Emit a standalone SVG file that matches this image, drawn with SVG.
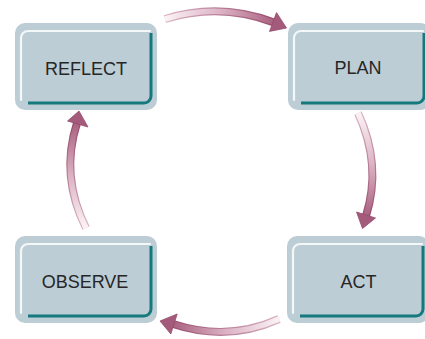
<svg xmlns="http://www.w3.org/2000/svg" width="425" height="339" viewBox="0 0 425 339">
  <style>
    .box { fill: #bccdd5; }
    .hl { fill: none; stroke: #f4f7f8; stroke-width: 2.2; stroke-linecap: round; }
    .tl { fill: none; stroke: #15797e; stroke-width: 3; stroke-linecap: butt; }
    .lbl { font-family: "Liberation Sans", Arial, sans-serif; font-size: 18px; fill: #262626; text-anchor: middle; }
    .shaftO { fill: none; stroke-width: 8; stroke-linecap: butt; }
    .shaftI { fill: none; stroke-width: 5.6; stroke-linecap: butt; }
  </style>
  <defs>
    <linearGradient id="gTopO" gradientUnits="userSpaceOnUse" x1="165" y1="19" x2="275" y2="22">
      <stop offset="0" stop-color="#d9b3c3"/><stop offset="1" stop-color="#98496b"/>
    </linearGradient>
    <linearGradient id="gTopI" gradientUnits="userSpaceOnUse" x1="165" y1="19" x2="275" y2="22">
      <stop offset="0" stop-color="#fbf3f6"/><stop offset="0.5" stop-color="#dcb3c3"/><stop offset="1" stop-color="#a8607f"/>
    </linearGradient>
    <linearGradient id="gRtO" gradientUnits="userSpaceOnUse" x1="358" y1="113" x2="366" y2="217">
      <stop offset="0" stop-color="#d9b3c3"/><stop offset="1" stop-color="#98496b"/>
    </linearGradient>
    <linearGradient id="gRtI" gradientUnits="userSpaceOnUse" x1="358" y1="113" x2="366" y2="217">
      <stop offset="0" stop-color="#fbf3f6"/><stop offset="0.5" stop-color="#dcb3c3"/><stop offset="1" stop-color="#a8607f"/>
    </linearGradient>
    <linearGradient id="gBtO" gradientUnits="userSpaceOnUse" x1="279" y1="319" x2="172" y2="324">
      <stop offset="0" stop-color="#d9b3c3"/><stop offset="1" stop-color="#98496b"/>
    </linearGradient>
    <linearGradient id="gBtI" gradientUnits="userSpaceOnUse" x1="279" y1="319" x2="172" y2="324">
      <stop offset="0" stop-color="#fbf3f6"/><stop offset="0.5" stop-color="#dcb3c3"/><stop offset="1" stop-color="#a8607f"/>
    </linearGradient>
    <linearGradient id="gLtO" gradientUnits="userSpaceOnUse" x1="86" y1="228" x2="77" y2="122">
      <stop offset="0" stop-color="#d9b3c3"/><stop offset="1" stop-color="#98496b"/>
    </linearGradient>
    <linearGradient id="gLtI" gradientUnits="userSpaceOnUse" x1="86" y1="228" x2="77" y2="122">
      <stop offset="0" stop-color="#fbf3f6"/><stop offset="0.5" stop-color="#dcb3c3"/><stop offset="1" stop-color="#a8607f"/>
    </linearGradient>
  </defs>

  <g id="connectors">
    <g id="arrow-plan">
      <path class="shaftO" stroke="url(#gTopO)" d="M165,19 Q220,2 274,22.5"/>
      <path class="shaftI" stroke="url(#gTopI)" d="M165,19 Q220,2 274,22.5"/>
      <polygon points="269.5,31.4 276.5,12.6 286.5,28" fill="#a45b7b" stroke="#954a6b" stroke-width="0.8" stroke-linejoin="round"/>
    </g>
    <g id="arrow-act">
      <path class="shaftO" stroke="url(#gRtO)" d="M358,113 Q382,165 366,216"/>
      <path class="shaftI" stroke="url(#gRtI)" d="M358,113 Q382,165 366,216"/>
      <polygon points="375.5,218 356.5,212 362.5,228.5" fill="#a45b7b" stroke="#954a6b" stroke-width="0.8" stroke-linejoin="round"/>
    </g>
    <g id="arrow-observe">
      <path class="shaftO" stroke="url(#gBtO)" d="M279,319 Q228,342 173,324"/>
      <path class="shaftI" stroke="url(#gBtI)" d="M279,319 Q228,342 173,324"/>
      <polygon points="177.2,314 170.8,334 160,321" fill="#a45b7b" stroke="#954a6b" stroke-width="0.8" stroke-linejoin="round"/>
    </g>
    <g id="arrow-reflect">
      <path class="shaftO" stroke="url(#gLtO)" d="M86,228 Q60,176 77,123"/>
      <path class="shaftI" stroke="url(#gLtI)" d="M86,228 Q60,176 77,123"/>
      <polygon points="88,127 67.5,121 79,111" fill="#a45b7b" stroke="#954a6b" stroke-width="0.8" stroke-linejoin="round"/>
    </g>
  </g>

  <g id="node-reflect" transform="translate(15,23)">
    <rect class="box" x="0" y="0" width="142" height="87" rx="10"/>
    <path class="hl" d="M6,77 V15 A7,7 0 0 1 13,8 H135"/>
    <path class="tl" d="M136,10 V73 A7,7 0 0 1 129,80 H13"/>
    <text class="lbl" x="71" y="52">REFLECT</text>
  </g>
  <g id="node-plan" transform="translate(288,23)">
    <rect class="box" x="0" y="0" width="142" height="87" rx="10"/>
    <path class="hl" d="M6,77 V15 A7,7 0 0 1 13,8 H135"/>
    <path class="tl" d="M136,10 V73 A7,7 0 0 1 129,80 H13"/>
    <text class="lbl" x="70" y="51">PLAN</text>
  </g>
  <g id="node-act" transform="translate(287,236)">
    <rect class="box" x="0" y="0" width="142" height="87" rx="10"/>
    <path class="hl" d="M6,77 V15 A7,7 0 0 1 13,8 H135"/>
    <path class="tl" d="M136,10 V73 A7,7 0 0 1 129,80 H13"/>
    <text class="lbl" x="71.5" y="52">ACT</text>
  </g>
  <g id="node-observe" transform="translate(15,236)">
    <rect class="box" x="0" y="0" width="142" height="87" rx="10"/>
    <path class="hl" d="M6,77 V15 A7,7 0 0 1 13,8 H135"/>
    <path class="tl" d="M136,10 V73 A7,7 0 0 1 129,80 H13"/>
    <text class="lbl" x="70" y="52">OBSERVE</text>
  </g>
</svg>
